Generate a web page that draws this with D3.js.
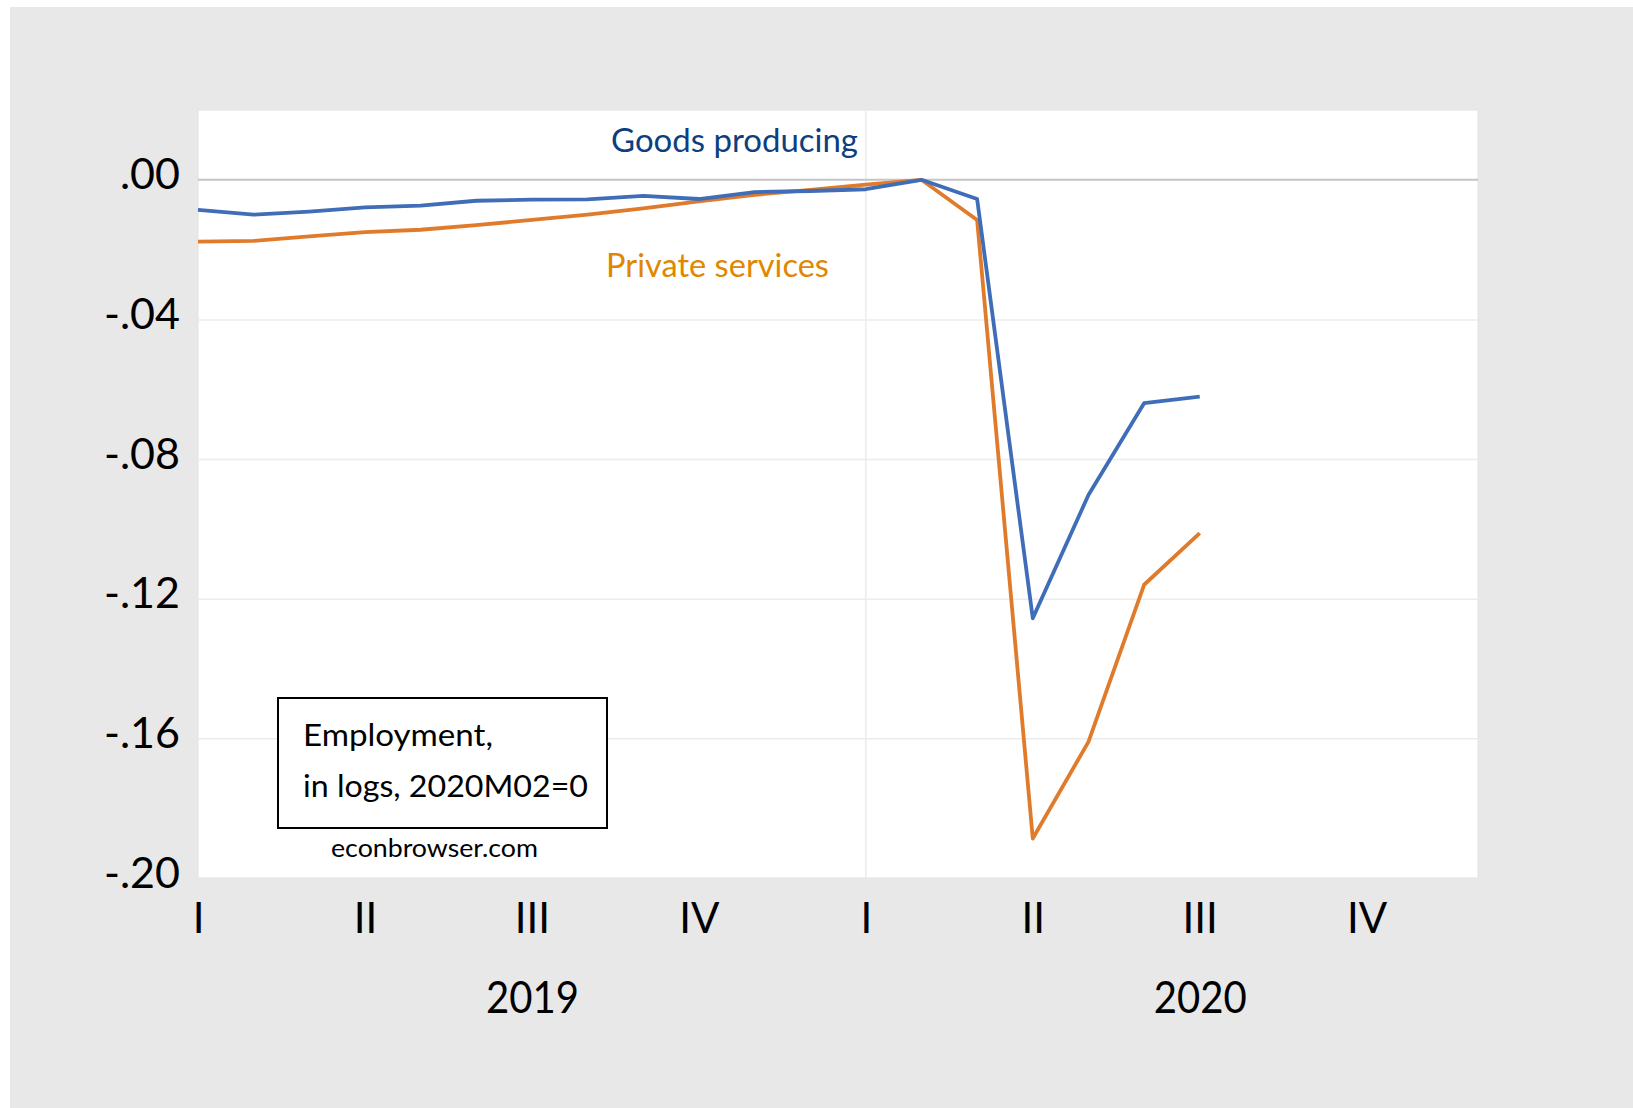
<!DOCTYPE html>
<html>
<head>
<meta charset="utf-8">
<script src="https://cdn.jsdelivr.net/npm/d3@7"></script>
<style>
  html, body { margin: 0; padding: 0; background: #ffffff; }
  svg { display: block; }
  text { font-family: Lato, "Open Sans", sans-serif; }
</style>
</head>
<body>
<svg id="chart"></svg>
<script>
// monthly, 2019M01 .. 2020M07, log employment relative to 2020M02
const months = d3.range(19); // 0 = 2019M01
const goodsProducing = [-0.0086, -0.0100, -0.0091, -0.0079, -0.0074, -0.0060, -0.0057, -0.0056, -0.0046,
  -0.0055, -0.0035, -0.0032, -0.0027, 0.0000, -0.0055, -0.1256, -0.0903, -0.0640, -0.0621];
const privateServices = [-0.0177, -0.0175, -0.0162, -0.0150, -0.0143, -0.0130, -0.0115, -0.0100, -0.0082,
  -0.0062, -0.0043, -0.0029, -0.0014, 0.0000, -0.0115, -0.1887, -0.1610, -0.1160, -0.1012];

const yTicks = [0, -0.04, -0.08, -0.12, -0.16, -0.20];
const yTickLabels = [".00", "-.04", "-.08", "-.12", "-.16", "-.20"];
const quarterTicks = [0, 3, 6, 9, 12, 15, 18, 21];
const quarterLabels = ["I", "II", "III", "IV", "I", "II", "III", "IV"];
const yearTicks = [6, 18];
const yearLabels = ["2019", "2020"];

const width = 1633, height = 1108;
const plot = { left: 198, right: 1478, top: 110, bottom: 878 };

const svg = d3.select('#chart')
    .attr('width', width)
    .attr('height', height);

// grey panel
svg.append('rect')
    .attr('x', 10).attr('y', 7)
    .attr('width', width - 10).attr('height', height - 7)
    .attr('fill', '#e8e8e8');

const x = d3.scaleLinear().domain([0, 23]).range([plot.left, plot.right]);
const y = d3.scaleLinear().domain([-0.2, 0.02]).range([plot.bottom, plot.top]);

// plot area
svg.append('rect')
    .attr('x', plot.left).attr('y', plot.top)
    .attr('width', plot.right - plot.left).attr('height', plot.bottom - plot.top)
    .attr('fill', '#ffffff')
    .attr('stroke', '#e2e2e2')
    .attr('stroke-width', 1);

// horizontal gridlines
const grid = svg.append('g')
    .attr('transform', `translate(${plot.left},0)`)
    .call(d3.axisLeft(y).tickValues(yTicks.filter(v => v !== 0 && v !== -0.2))
        .tickSize(-(plot.right - plot.left)).tickFormat(''));
grid.select('.domain').remove();
grid.selectAll('line').attr('stroke', '#ececec').attr('stroke-width', 1.5);

// vertical line at 2020 I
svg.append('line')
    .attr('x1', x(12)).attr('x2', x(12))
    .attr('y1', plot.top).attr('y2', plot.bottom)
    .attr('stroke', '#ececec').attr('stroke-width', 1.5);

// zero line
svg.append('line')
    .attr('x1', plot.left).attr('x2', plot.right)
    .attr('y1', y(0)).attr('y2', y(0))
    .attr('stroke', '#c4c4c4').attr('stroke-width', 2);

// y axis labels
const yAxis = svg.append('g')
    .attr('transform', `translate(${plot.left},0)`)
    .call(d3.axisLeft(y).tickValues(yTicks).tickSize(0).tickPadding(18)
        .tickFormat((d, i) => yTickLabels[i]));
yAxis.select('.domain').remove();
yAxis.selectAll('text')
    .attr('font-family', 'Lato, sans-serif')
    .attr('font-size', 43)
    .attr('fill', '#000')
    .attr('dy', 9);

// x axis: quarters
const xAxis = svg.append('g')
    .attr('transform', `translate(0,${plot.bottom})`)
    .call(d3.axisBottom(x).tickValues(quarterTicks).tickSize(0)
        .tickFormat((d, i) => quarterLabels[i]));
xAxis.select('.domain').remove();
xAxis.selectAll('text')
    .attr('font-family', 'Lato, sans-serif')
    .attr('font-size', 42)
    .attr('fill', '#000')
    .attr('y', 55)
    .attr('dy', 0);

// years
svg.append('g')
    .selectAll('text')
    .data(yearTicks)
    .join('text')
    .attr('x', d => x(d) - 46)
    .attr('y', 1013)
    .attr('font-size', 45)
    .attr('fill', '#000')
    .attr('textLength', 93).attr('lengthAdjust', 'spacingAndGlyphs')
    .text((d, i) => yearLabels[i]);

// lines
const line = d3.line().x((d, i) => x(months[i])).y(d => y(d));

svg.append('path')
    .datum(privateServices)
    .attr('fill', 'none')
    .attr('stroke', '#e07b2c')
    .attr('stroke-width', 3.8)
    .attr('stroke-linejoin', 'round')
    .attr('d', line);

svg.append('path')
    .datum(goodsProducing)
    .attr('fill', 'none')
    .attr('stroke', '#3f6db8')
    .attr('stroke-width', 3.8)
    .attr('stroke-linejoin', 'round')
    .attr('d', line);

// series labels
svg.append('text')
    .attr('x', 611).attr('y', 152)
    .attr('font-size', 33)
    .attr('fill', '#0d3f80')
    .attr('textLength', 247).attr('lengthAdjust', 'spacingAndGlyphs')
    .text('Goods producing');

svg.append('text')
    .attr('x', 606).attr('y', 277)
    .attr('font-size', 33)
    .attr('fill', '#e08700')
    .attr('textLength', 223).attr('lengthAdjust', 'spacingAndGlyphs')
    .text('Private services');

// note box
svg.append('rect')
    .attr('x', 278).attr('y', 698)
    .attr('width', 329).attr('height', 130)
    .attr('fill', '#fff')
    .attr('stroke', '#000')
    .attr('stroke-width', 2);

svg.append('text')
    .attr('x', 303).attr('y', 746)
    .attr('font-size', 30)
    .attr('fill', '#000')
    .attr('textLength', 190).attr('lengthAdjust', 'spacingAndGlyphs')
    .text('Employment,');

svg.append('text')
    .attr('x', 303).attr('y', 797)
    .attr('font-size', 30)
    .attr('fill', '#000')
    .attr('textLength', 285).attr('lengthAdjust', 'spacingAndGlyphs')
    .text('in logs, 2020M02=0');

svg.append('text')
    .attr('x', 331).attr('y', 857)
    .attr('font-size', 25)
    .attr('fill', '#000')
    .attr('textLength', 207).attr('lengthAdjust', 'spacingAndGlyphs')
    .text('econbrowser.com');
</script>
</body>
</html>
